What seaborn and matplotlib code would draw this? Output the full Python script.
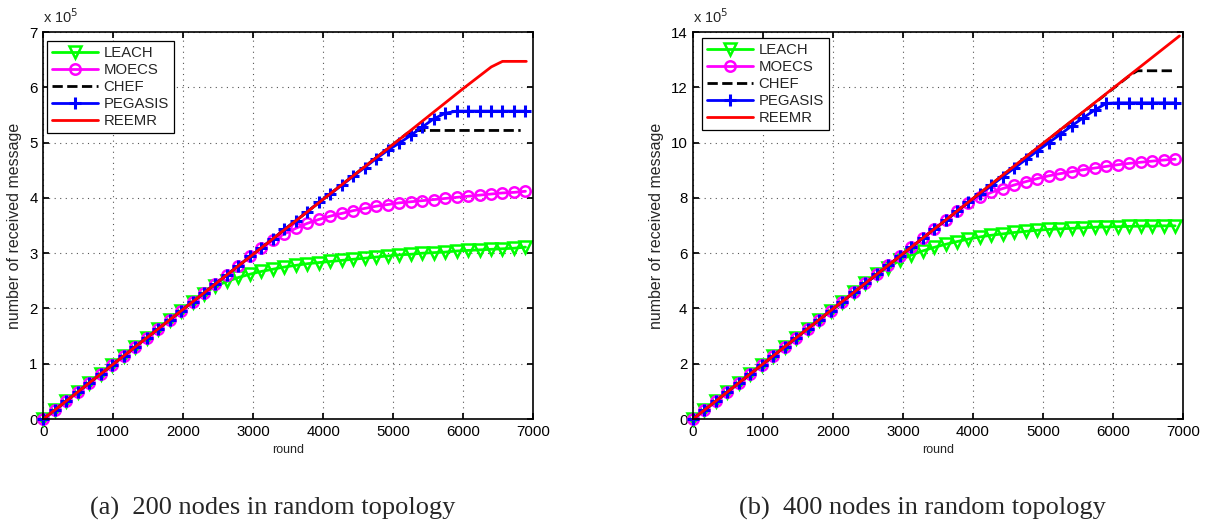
import numpy as np
import matplotlib
matplotlib.use("Agg")
import matplotlib.pyplot as plt
import seaborn as sns

# rounds where the markers sit (values below are in units of 10^5 messages)
rounds = [0, 164, 328, 492, 656, 820, 984, 1148, 1312, 1476, 1640, 1804, 1968,
          2132, 2296, 2460, 2624, 2788, 2952, 3116, 3280, 3444, 3608, 3772,
          3936, 4100, 4264, 4428, 4592, 4756, 4920, 5084, 5248, 5412, 5576,
          5740, 5904, 6068, 6232, 6396, 6560, 6724, 6888]

# (a) 200 nodes
leach_a = [0.00, 0.16, 0.33, 0.49, 0.65, 0.82, 0.98, 1.14, 1.31, 1.47, 1.63,
           1.79, 1.96, 2.12, 2.27, 2.40, 2.49, 2.56, 2.62, 2.67, 2.71, 2.75,
           2.78, 2.81, 2.83, 2.85, 2.87, 2.89, 2.91, 2.93, 2.95, 2.97, 2.98,
           3.00, 3.01, 3.02, 3.04, 3.05, 3.06, 3.07, 3.08, 3.09, 3.11]
moecs_a = [0.00, 0.16, 0.33, 0.49, 0.65, 0.82, 0.98, 1.14, 1.31, 1.47, 1.63,
           1.79, 1.96, 2.12, 2.28, 2.45, 2.61, 2.77, 2.94, 3.09, 3.23, 3.35,
           3.45, 3.54, 3.61, 3.67, 3.72, 3.77, 3.81, 3.85, 3.88, 3.91, 3.93,
           3.95, 3.97, 3.99, 4.01, 4.03, 4.05, 4.07, 4.09, 4.10, 4.12]
pegasis_a = [0.00, 0.16, 0.33, 0.49, 0.65, 0.82, 0.98, 1.14, 1.31, 1.47, 1.63,
             1.79, 1.96, 2.12, 2.28, 2.45, 2.61, 2.77, 2.94, 3.10, 3.26, 3.43,
             3.59, 3.75, 3.92, 4.07, 4.23, 4.39, 4.55, 4.71, 4.86, 4.99, 5.13,
             5.28, 5.43, 5.53, 5.57, 5.57, 5.57, 5.57, 5.57, 5.57, 5.57]
chef_a_x = [0, 5200, 5330, 6820]
chef_a = [0.00, 5.17, 5.22, 5.22]
reemr_a_x = [0, 5000, 6000, 6400, 6560, 6900]
reemr_a = [0.00, 4.97, 5.98, 6.37, 6.47, 6.47]

# (b) 400 nodes
leach_b = [0.00, 0.33, 0.65, 0.98, 1.31, 1.64, 1.96, 2.29, 2.62, 2.94, 3.27,
           3.60, 3.92, 4.25, 4.58, 4.91, 5.23, 5.47, 5.74, 5.93, 6.08, 6.21,
           6.32, 6.42, 6.51, 6.59, 6.65, 6.70, 6.75, 6.79, 6.83, 6.86, 6.88,
           6.90, 6.92, 6.94, 6.95, 6.96, 6.97, 6.98, 6.98, 6.99, 6.99]
moecs_b = [0.00, 0.33, 0.65, 0.98, 1.31, 1.64, 1.96, 2.29, 2.62, 2.94, 3.27,
           3.60, 3.92, 4.25, 4.58, 4.91, 5.23, 5.56, 5.89, 6.21, 6.54, 6.87,
           7.19, 7.52, 7.83, 8.03, 8.20, 8.34, 8.47, 8.59, 8.70, 8.80, 8.88,
           8.95, 9.02, 9.08, 9.14, 9.20, 9.25, 9.29, 9.33, 9.37, 9.40]
pegasis_b = [0.00, 0.33, 0.65, 0.98, 1.31, 1.64, 1.96, 2.29, 2.62, 2.94, 3.27,
             3.60, 3.92, 4.25, 4.58, 4.91, 5.23, 5.56, 5.89, 6.21, 6.54, 6.87,
             7.19, 7.52, 7.85, 8.14, 8.45, 8.77, 9.08, 9.39, 9.70, 10.00, 10.30,
             10.61, 10.90, 11.18, 11.42, 11.44, 11.44, 11.44, 11.44, 11.44, 11.44]
chef_b_x = [0, 6250, 6350, 6900]
chef_b = [0.00, 12.45, 12.60, 12.60]
reemr_b_x = [0, 6950]
reemr_b = [0.00, 13.86]

sns.set_theme(style="white", rc={
    "xtick.direction": "in", "ytick.direction": "in",
    "xtick.top": True, "ytick.right": True,
    "xtick.bottom": True, "ytick.left": True,
    "xtick.major.size": 4, "ytick.major.size": 4,
    "axes.edgecolor": "black", "axes.linewidth": 1.2,
})
plt.rcParams["font.family"] = ["Liberation Sans", "DejaVu Sans"]

fig = plt.figure(figsize=(12.06, 5.25), dpi=100)
ax_a = fig.add_axes([0.0359, 0.2019, 0.4063, 0.737])
ax_b = fig.add_axes([0.5746, 0.2019, 0.4063, 0.737])

panels = [
    (ax_a, leach_a, moecs_a, pegasis_a, chef_a_x, chef_a, reemr_a_x, reemr_a,
     7, range(0, 8), "(a)  200 nodes in random topology", (0.008, 0.977), 0.226),
    (ax_b, leach_b, moecs_b, pegasis_b, chef_b_x, chef_b, reemr_b_x, reemr_b,
     14, range(0, 15, 2), "(b)  400 nodes in random topology", (0.018, 0.985), 0.765),
]

for ax, leach, moecs, peg, cx, chef, rx, reemr, ymax, yt, cap, lpos, capx in panels:
    common = dict(ax=ax, linewidth=2, clip_on=False, sort=False)
    sns.lineplot(x=rounds, y=leach, color="#00ff00", marker="v", markersize=8.5,
                 markerfacecolor="none", markeredgecolor="#00ff00",
                 markeredgewidth=1.8, label="LEACH", **common)
    sns.lineplot(x=rounds, y=moecs, color="#ff00ff", marker="o", markersize=7.5,
                 markerfacecolor="none", markeredgecolor="#ff00ff",
                 markeredgewidth=1.8, label="MOECS", **common)
    sns.lineplot(x=cx, y=chef, color="black", linestyle="--", label="CHEF",
                 **common)
    sns.lineplot(x=rounds, y=peg, color="#0000ff", marker="+", markersize=8.5,
                 markeredgecolor="#0000ff", markeredgewidth=2.2,
                 label="PEGASIS", **common)
    sns.lineplot(x=rx, y=reemr, color="#ff0000", label="REEMR", **common)

    ax.set_xlim(0, 7000)
    ax.set_ylim(0, ymax)
    ax.set_xticks(range(0, 7001, 1000))
    ax.set_yticks(list(yt))
    ax.tick_params(labelsize=10.8, colors="black", pad=4)
    ax.grid(True, linestyle=(0, (1, 4)), color="#555555", linewidth=0.8)
    ax.set_xlabel("round", fontsize=9, labelpad=4)
    ax.set_ylabel("number of received message", fontsize=11.5, labelpad=5)
    ax.text(0.0, 1.015, r"x 10$^5$", transform=ax.transAxes, fontsize=10.5,
            ha="left", va="bottom")
    leg = ax.legend(loc="upper left", bbox_to_anchor=lpos, borderaxespad=0,
                    fontsize=10.7, frameon=True, fancybox=False,
                    edgecolor="black", framealpha=1, handlelength=3.1,
                    borderpad=0.35, labelspacing=0.2, handletextpad=0.35)
    leg.get_frame().set_linewidth(0.9)
    for spine in ax.spines.values():
        spine.set_visible(True)
        spine.set_color("black")
    fig.text(capx, 0.032, cap, ha="center", va="center", fontsize=19,
             family="Liberation Serif")

fig.savefig("out.png", dpi=100)
